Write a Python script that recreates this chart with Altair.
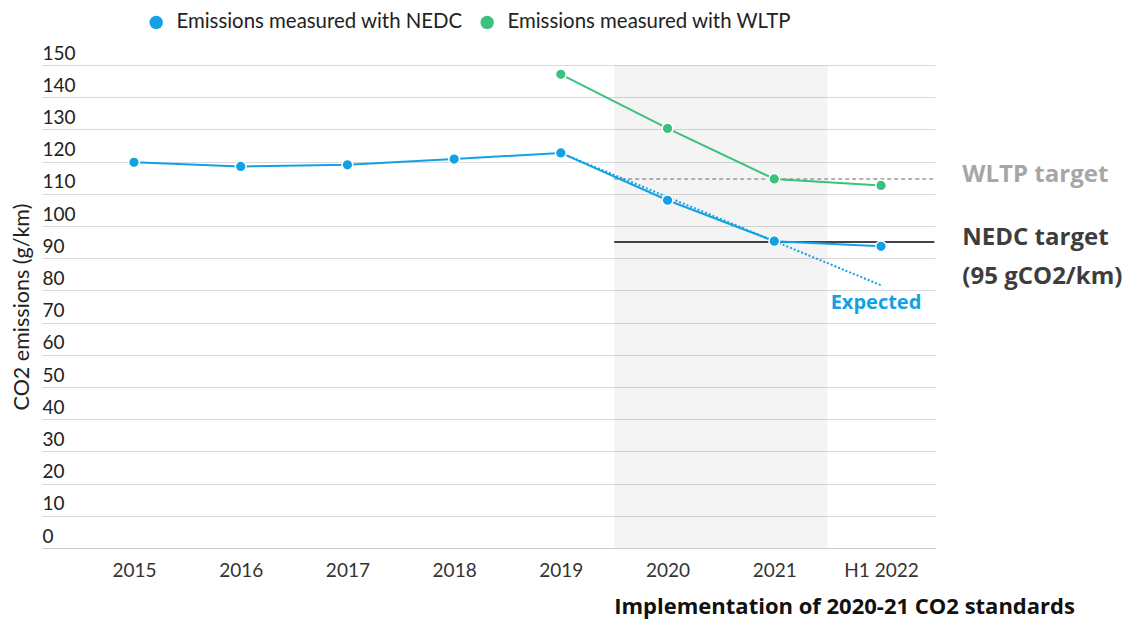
import json
import altair as alt
import pandas as pd

FONT = "Lato"
BOLD_FONT = "Open Sans"

# ---------------- data ----------------
periods = ["2015", "2016", "2017", "2018", "2019", "2020", "2021", "H1 2022"]
nedc_values = [119.8, 118.5, 119.0, 120.8, 122.7, 108.0, 95.3, 93.7]
wltp_periods = ["2019", "2020", "2021", "H1 2022"]
wltp_values = [147.1, 130.3, 114.6, 112.6]
expected_periods = ["2019", "H1 2022"]
expected_values = [122.7, 81.6]
nedc_target = 95
wltp_target = 114.6
standards_periods = ["2020", "2021"]
series_names = ["Emissions measured with NEDC", "Emissions measured with WLTP"]
series_colors = ["#12a2e4", "#3ac27d"]
y_ticks = list(range(0, 151, 10))

idx = {p: i for i, p in enumerate(periods)}

series_df = pd.DataFrame(
    [{"x": idx[p], "value": v, "series": series_names[0]} for p, v in zip(periods, nedc_values)]
    + [{"x": idx[p], "value": v, "series": series_names[1]} for p, v in zip(wltp_periods, wltp_values)]
)
expected_df = pd.DataFrame({"x": [idx[p] for p in expected_periods], "value": expected_values})

band_start = idx[standards_periods[0]] - 0.5
band_end = idx[standards_periods[-1]] + 0.5
x_last = idx[periods[-1]] + 0.5
shade_df = pd.DataFrame({"x": [band_start], "x2": [band_end], "y": [0], "y2": [150]})
targets_df = pd.DataFrame({
    "x": [band_start, band_start], "x2": [x_last, x_last],
    "value": [nedc_target, wltp_target], "kind": ["NEDC", "WLTP"],
})

W, H = 893, 483
x_scale = alt.Scale(domain=[-0.862, 7.506], nice=False, zero=False)
y_scale = alt.Scale(domain=[0, 150], nice=False, zero=True)

x_axis = alt.Axis(
    values=list(range(len(periods))),
    labelExpr=f"{json.dumps(periods)}[datum.value]",
    grid=False, ticks=False, tickSize=0,
    domainColor="#cccccc", domainWidth=1,
    labelFont=FONT, labelFontSize=19, labelColor="#333333", labelPadding=13,
    labelFlush=False, labelOverlap=False, title=None,
)
y_axis = alt.Axis(
    values=y_ticks, grid=True, gridColor="#d9d9d9", gridWidth=1,
    domain=False, ticks=False, tickSize=0,
    labelAlign="left", labelBaseline="alphabetic", labelPadding=0, labelOffset=-6,
    labelFont=FONT, labelFontSize=19, labelColor="#222222", labelFlush=False,
    title="CO2 emissions (g/km)", titleX=-20, titleY=H / 2, titleAngle=270,
    titleAlign="center", titleBaseline="middle", titleFont=FONT, titleFontSize=21.5,
    titleFontWeight="normal", titleColor="#222222",
)

X = lambda f="x": alt.X(f"{f}:Q", scale=x_scale, axis=x_axis)
Y = lambda f="value": alt.Y(f"{f}:Q", scale=y_scale, axis=y_axis)

color = alt.Color(
    "series:N",
    scale=alt.Scale(domain=series_names, range=series_colors),
    legend=alt.Legend(
        title=None, orient="none", legendX=104, legendY=-53, direction="horizontal",
        symbolType="circle", symbolSize=180, symbolStrokeWidth=0, symbolOpacity=1,
        labelFont=FONT, labelFontSize=20.4, labelColor="#222222", labelLimit=0,
        labelOffset=10, columnPadding=14,
    ),
)

shade = alt.Chart(shade_df).mark_rect(color="#000000", opacity=0.045).encode(
    x=X(), x2="x2:Q", y=Y("y"), y2="y2:Q"
)

nedc_rule = alt.Chart(targets_df[targets_df.kind == "NEDC"]).mark_rule(
    color="#444444", strokeWidth=2
).encode(x=X(), x2="x2:Q", y=Y())

wltp_rule = alt.Chart(targets_df[targets_df.kind == "WLTP"]).mark_rule(
    color="#999999", strokeWidth=1.5, strokeDash=[4, 3]
).encode(x=X(), x2="x2:Q", y=Y())

expected_line = alt.Chart(expected_df).mark_line(
    color=series_colors[0], strokeWidth=2, strokeDash=[2, 2]
).encode(x=X(), y=Y())

lines = alt.Chart(series_df).mark_line(strokeWidth=2).encode(
    x=X(), y=Y(), color=color,
)

points = alt.Chart(series_df).mark_circle(
    size=115, opacity=1, stroke="white", strokeWidth=1.5
).encode(x=X(), y=Y(), color=color)

ann_df = pd.DataFrame({
    "x": [x_last], "wltp": [wltp_target], "nedc": [nedc_target],
    "exp_x": [idx[expected_periods[-1]]], "exp_y": [expected_values[-1]],
    "band": [band_start], "zero": [0],
})

def label(text, xf, yf, **kw):
    return alt.Chart(ann_df).mark_text(font=BOLD_FONT, fontWeight="bold", **kw).encode(
        x=X(xf), y=Y(yf), text=alt.value(text)
    )

t_wltp = label("WLTP target", "x", "wltp", align="left", baseline="middle", dx=28, dy=-4, fontSize=24, color="#a6a6a6")
t_nedc = label("NEDC target", "x", "nedc", align="left", baseline="middle", dx=28, dy=-4, fontSize=24, color="#3d3d3d")
t_nedc2 = label("(95 gCO2/km)", "x", "nedc", align="left", baseline="middle", dx=28, dy=35, fontSize=24, color="#3d3d3d")
t_exp = label("Expected", "exp_x", "exp_y", align="center", baseline="middle", dx=-5, dy=18, fontSize=20, color=series_colors[0])
t_impl = label("Implementation of 2020-21 CO2 standards", "band", "zero", align="left", baseline="alphabetic", dy=66, fontSize=22, color="#111111")

chart = alt.layer(
    shade, wltp_rule, nedc_rule, expected_line, lines, points,
    t_wltp, t_nedc, t_nedc2, t_exp, t_impl,
).properties(
    width=W, height=H,
    autosize=alt.AutoSizeParams(type="none"),
    padding={"left": 34, "top": 57, "right": 187, "bottom": 72},
    background="white",
).configure(font=FONT).configure_view(stroke=None)

chart.save("out.html", embed_options={"renderer": "svg", "actions": False})
